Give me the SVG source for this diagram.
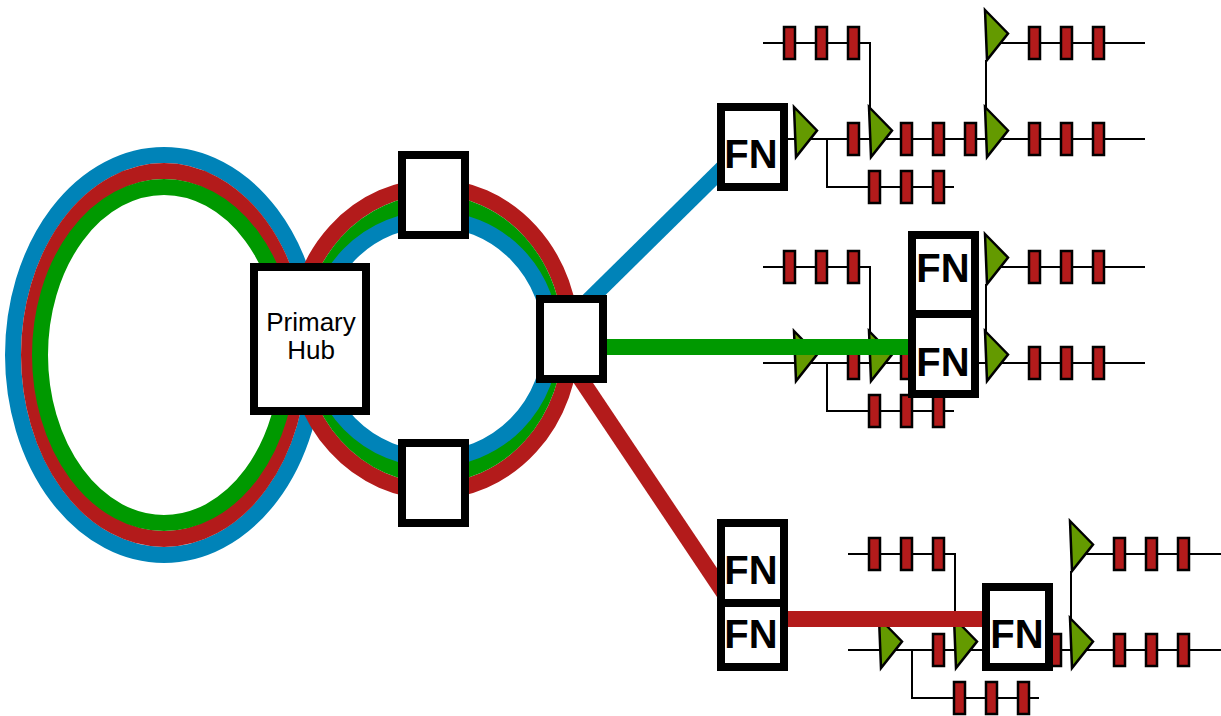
<svg xmlns="http://www.w3.org/2000/svg" width="1221" height="716" viewBox="0 0 1221 716">
<style>
.ring{fill:none;stroke-width:16}
.blue{stroke:#0083b8}.red{stroke:#b31b1b}.green{stroke:#009900}
.trunk{fill:none;stroke-width:16}
.box{fill:#fff;stroke:#000;stroke-width:8}
.wire{fill:none;stroke:#000;stroke-width:2}
.bar{fill:#b31b1b;stroke:#000;stroke-width:2.5}
.amp{fill:#649a00;stroke:#000;stroke-width:2.5;stroke-linejoin:miter}
.fn{font-family:"Liberation Sans",Arial,sans-serif;font-weight:700;font-size:40px;text-anchor:middle;fill:#000}
.hub{font-family:"Liberation Sans",Arial,sans-serif;font-size:26px;text-anchor:middle;fill:#000}
</style>
<defs>
<rect id="b" class="bar" x="-5" y="-16" width="11" height="32"/>
<g id="row"><use href="#b" x="0"/><use href="#b" x="32"/><use href="#b" x="64"/></g>
<polygon id="a" class="amp" points="0,0 23,23.5 2,50"/>
<g id="drop">
<path class="wire" d="M763 43H870V110M763 139H1145M827 139V187H954M986 60V110M1000 43H1145"/>
<use href="#row" x="789" y="43"/>
<use href="#row" x="1034" y="43"/>
<use href="#row" x="874" y="187"/>
<use href="#b" x="853" y="139"/>
<use href="#row" x="906" y="139"/>
<use href="#row" x="1034" y="139"/>
<use href="#a" x="794" y="107"/>
<use href="#a" x="869" y="107"/>
<use href="#a" x="985" y="107"/>
<use href="#a" x="985" y="10"/>
</g>
</defs>
<g id="drops">
<use href="#drop"/>
<use href="#drop" y="224"/>
<use href="#drop" x="85" y="511"/>
</g>
<g id="connectors">
<ellipse class="ring blue" cx="164" cy="355" rx="151" ry="200"/>
<ellipse class="ring red" cx="164" cy="355" rx="135" ry="184"/>
<ellipse class="ring green" cx="164" cy="355" rx="124" ry="168"/>
<ellipse class="ring red" cx="433" cy="339" rx="138" ry="152"/>
<ellipse class="ring green" cx="433" cy="339" rx="122" ry="136"/>
<ellipse class="ring blue" cx="433" cy="339" rx="118" ry="120"/>
<path class="trunk blue" d="M585 304L726 165"/>
<path class="trunk green" d="M600 347H915"/>
<path class="trunk red" d="M572 366L726 596"/>
<path class="trunk red" d="M780 619H990"/>
</g>
<g id="primary-hub"><rect class="box" x="254" y="267" width="112" height="144"/><text class="hub" x="311" y="331">Primary</text><text class="hub" x="311" y="359">Hub</text></g>
<g id="hub-top"><rect class="box" x="402" y="155" width="63" height="80"/></g>
<g id="hub-bottom"><rect class="box" x="402" y="443" width="63" height="80"/></g>
<g id="hub-right"><rect class="box" x="540" y="299" width="63" height="80"/></g>
<g id="fn-1"><rect class="box" x="721" y="107" width="63" height="80"/><text class="fn" x="751" y="168">FN</text></g>
<g id="fn-2"><rect class="box" x="912" y="235" width="63" height="80"/><text class="fn" x="943" y="282">FN</text></g>
<g id="fn-3"><rect class="box" x="912" y="314" width="63" height="80"/><text class="fn" x="943" y="376">FN</text></g>
<g id="fn-4"><rect class="box" x="721" y="523" width="63" height="80"/><text class="fn" x="751" y="584">FN</text></g>
<g id="fn-5"><rect class="box" x="721" y="603" width="63" height="64"/><text class="fn" x="751" y="648">FN</text></g>
<g id="fn-6"><rect class="box" x="986" y="587" width="63" height="80"/><text class="fn" x="1017" y="648">FN</text></g>
</svg>
